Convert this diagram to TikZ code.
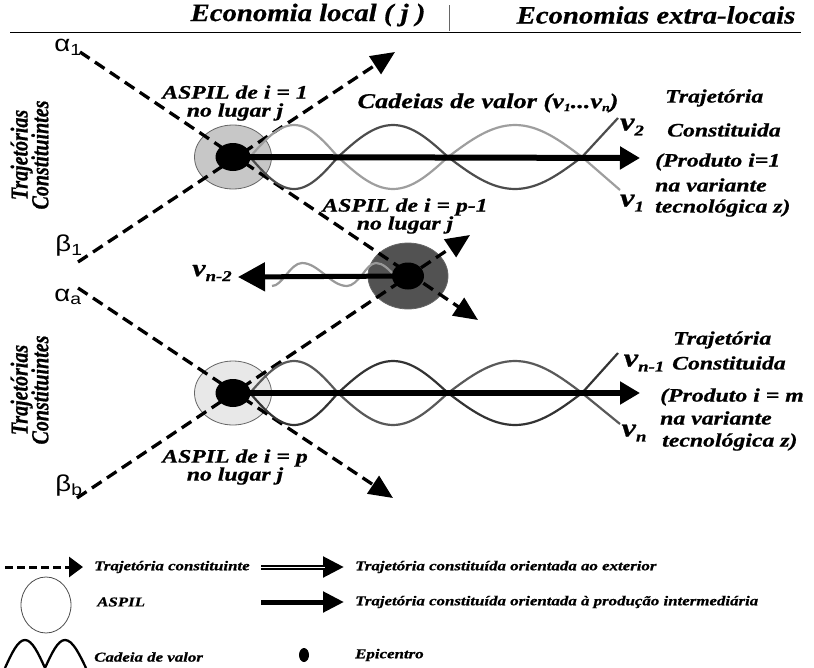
\documentclass[tikz,border=0pt]{standalone}
\usepackage{fontspec}
\setmainfont{Liberation Serif}[FakeStretch=1.25, BoldItalicFeatures={FakeBold=0.8}]
\newfontfamily\hdrfont{Liberation Serif}[FakeStretch=1.15, BoldItalicFeatures={FakeBold=0.6}]
\newfontfamily\serifn{Liberation Serif}[BoldItalicFeatures={FakeBold=0.8}]
\newfontfamily\gsans{Liberation Sans}[FakeStretch=1.2]
\usetikzlibrary{arrows.meta,shapes.geometric}
\newcommand\vsub[2][26]{{\fontsize{#1}{#1}\selectfont\bfseries\itshape v}{\fontsize{15}{15}\selectfont\bfseries\itshape\raisebox{-5pt}{#2}}}
\newcommand\rotlabel{\scalebox{1}[1.22]{\begin{tabular}{@{}c@{}}Trajetórias\\[-3pt]Constituintes\end{tabular}}}
\begin{document}
\begin{tikzpicture}[x=1pt,y=-1pt,
 lbl/.style={inner sep=0pt, font=\fontsize{19}{18}\selectfont\bfseries\itshape, align=center},
 side/.style={inner sep=0pt, anchor=west, font=\fontsize{19}{22}\selectfont\bfseries\itshape},
 hdr/.style={inner sep=0pt, font=\fontsize{25}{26}\selectfont\hdrfont\bfseries\itshape},
 leg/.style={inner sep=0pt, anchor=west, font=\fontsize{13.5}{15}\selectfont\bfseries\itshape},
 gk/.style={inner sep=0pt, font=\fontsize{23}{23}\selectfont\gsans},
 rot/.style={inner sep=0pt, rotate=90, font=\fontsize{20}{20}\selectfont\serifn\bfseries\itshape},
 aspil/.style={ellipse, draw=black!60, line width=0.8pt, minimum width=77pt, minimum height=64pt, inner sep=0pt},
 epi/.style={ellipse, fill=black, minimum width=35pt, minimum height=28pt, inner sep=0pt},
 traj/.style={line width=3.3pt, dash pattern=on 11.5pt off 6.5pt, -{Triangle[length=24pt,width=21pt]}},
 outarrow/.style={line width=6pt, -{Triangle[length=20pt,width=22pt]}},
 chain/.style={line width=2.2pt},
]
\useasboundingbox (0,0) rectangle (814,667);

% header
\node[hdr] (hloc) at (308,15) {Economia local ( j )};
\node[hdr] (hext) at (656,15) {Economias extra-locais};
\draw[line width=1pt] (10,32) -- (801,32);
\draw[line width=0.6pt, black!60] (449,5) -- (449,31);

% ASPIL circles
\node[aspil, fill=black!22] (c1) at (233,157) {};
\node[aspil, fill=black!68, minimum width=80pt, minimum height=66pt] (c3) at (408,276) {};
\node[aspil, fill=black!9] (c4) at (233,393) {};

% constituent trajectories
\coordinate (a1) at (80,52);   \coordinate (a1t) at (478,320);
\coordinate (b1) at (78,262);  \coordinate (b1t) at (395,52);
\coordinate (aa) at (78,288);  \coordinate (aat) at (393,498);
\coordinate (bb) at (77,498);  \coordinate (bbt) at (470,235);
\draw[traj] (a1) -- (a1t);
\draw[traj] (b1) -- (b1t);
\draw[traj] (aa) -- (aat);
\draw[traj] (bb) -- (bbt);

% value chains, upper group
\draw[chain, black!70] (250,157) sin (294,189) cos (338,157) sin (393,125) cos (448,157) sin (515,189) cos (582,157) -- (618,118);
\draw[chain, black!38] (250,157) sin (294,125) cos (338,157) sin (393,189) cos (448,157) sin (515,125) cos (582,157) -- (620,190);
% value chains, lower group
\draw[chain, black!80] (250,393) sin (294,425) cos (338,393) sin (393,361) cos (448,393) sin (515,425) cos (582,393) -- (618,353);
\draw[chain, black!65] (250,393) sin (294,361) cos (338,393) sin (393,425) cos (448,393) sin (515,361) cos (582,393) -- (620,424);
% value chain of the intermediate ASPIL
\draw[chain, black!40] (272,286) cos (286,275) sin (302,263) cos (324,274) sin (347,286) cos (362,275) sin (376,263) cos (395,276);

% constituted trajectories
\coordinate (t1) at (640,158);
\coordinate (t3) at (238,277);
\coordinate (t4) at (640,393);
\draw[outarrow] (c1.center) -- (t1);
\draw[outarrow] (c4.center) -- (t4);
\draw[line width=5pt, -{Triangle[length=27pt,width=28pt]}] (c3.center) -- (t3);

% epicentres
\node[epi] (e1) at (c1) {};
\node[epi, minimum width=32pt, minimum height=27pt] (e3) at (c3) {};
\node[epi] (e4) at (c4) {};

% greek labels
\node[gk] (la1) at (68,47) {α\textsubscript{1}};
\node[gk] (lb1) at (69,246) {β\textsubscript{1}};
\node[gk] (laa) at (68,297) {α\textsubscript{a}};
\node[gk] (lbb) at (69,486) {β\textsubscript{b}};

% side labels
\node[rot] (tc1) at (33,155) {\rotlabel};
\node[rot] (tc2) at (33,390) {\rotlabel};

% ASPIL labels
\node[lbl] (l1) at (235,103) {ASPIL de i = 1\\no lugar j};
\node[lbl] (l3) at (405,216) {ASPIL de i = p-1\\no lugar j};
\node[lbl] (l4) at (235,467) {ASPIL de i = p\\no lugar j};
\node[inner sep=0pt, font=\fontsize{21}{22}\selectfont\bfseries\itshape] (cad) at (488,103) {Cadeias de valor (v{\fontsize{11}{11}\selectfont\raisebox{-3pt}{1}}...v{\fontsize{11}{11}\selectfont\raisebox{-3pt}{n}})};

% chain labels
\node[inner sep=0pt] (v2) at (632,127) {\vsub{2}};
\node[inner sep=0pt] (v1) at (632,203) {\vsub{1}};
\node[inner sep=0pt] (vn2) at (212,273) {\vsub[24]{n-2}};
\node[inner sep=0pt] (vn1) at (644,363) {\vsub{n-1}};
\node[inner sep=0pt] (vn) at (634,433) {\vsub{n}};

% right-hand texts, upper
\node[side] (r1a) at (665,98) {Trajetória};
\node[side] (r1b) at (667,130) {Constituida};
\node[side] (r1c) at (655,162) {(Produto i=1};
\node[side] (r1d) at (655,185) {na variante};
\node[side] (r1e) at (655,208) {tecnológica z)};
% right-hand texts, lower
\node[side] (r2a) at (673,340) {Trajetória};
\node[side] (r2b) at (672,363) {Constituida};
\node[side] (r2c) at (660,397) {(Produto i = m};
\node[side] (r2d) at (660,418) {na variante};
\node[side] (r2e) at (662,442) {tecnológica z)};

% legend
\coordinate (g1s) at (5,567); \coordinate (g1t) at (83,567);
\draw[line width=3pt, dash pattern=on 8pt off 4pt, -{Triangle[length=14pt,width=20pt]}] (g1s) -- (g1t);
\node[leg] (g1) at (94,567) {Trajetória constituinte};
\coordinate (g2s) at (261,567); \coordinate (g2t) at (344,567);
\draw[line width=5pt, -{Triangle[length=21pt,width=20pt]}] (g2s) -- (g2t);
\draw[white, line width=0.8pt] (g2s) -- (325,567);
\node[leg] (g2) at (355,567) {Trajetória constituída orientada ao exterior};
\node[draw=black!70, line width=0.8pt, ellipse, minimum width=50pt, minimum height=56pt, inner sep=0pt] (g3e) at (46,605) {};
\node[leg] (g3) at (97,602) {ASPIL};
\coordinate (g4s) at (261,602); \coordinate (g4t) at (344,602);
\draw[line width=5pt, -{Triangle[length=21pt,width=20pt]}] (g4s) -- (g4t);
\node[leg] (g4) at (355,602) {Trajetória constituída orientada à produção intermediária};
\draw[line width=2.3pt] (5,668) sin (25,640) cos (45,668) sin (65,640) cos (86,668);
\node[leg] (g5) at (94,657) {Cadeia de valor};
\node[fill=black, ellipse, minimum width=10pt, minimum height=14pt, inner sep=0pt] (g6e) at (304,655) {};
\node[leg] (g6) at (355,655) {Epicentro};
\end{tikzpicture}
\end{document}
